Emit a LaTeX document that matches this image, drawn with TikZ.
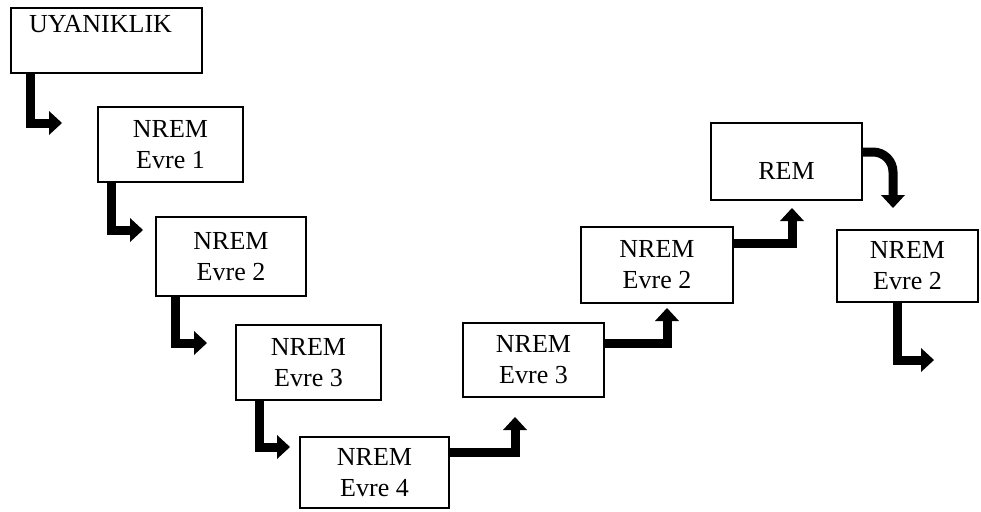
\documentclass[tikz,border=0pt]{standalone}
\usepackage{fontspec}
\setmainfont{Liberation Serif}
\usetikzlibrary{arrows.meta}
\tikzset{
  box/.style={draw, line width=1.1pt, align=center, inner sep=0pt,
    font=\fontsize{26}{31}\selectfont},
  txt/.style={font=\fontsize{26}{31}\selectfont, inner sep=0pt},
  flow/.style={line width=9pt,
    -{Triangle[width=24pt,length=13pt,line width=0pt]}},
}
\begin{document}
\begin{tikzpicture}[x=1pt,y=-1pt]
  \useasboundingbox (0,0) rectangle (981,511);

  % stages
  \node[box, minimum width=191, minimum height=65,
    label={[txt, xshift=-6pt, yshift=16pt]center:UYANIKLIK}] (u) at (106.5,40.5) {};
  \node[box, minimum width=145, minimum height=75] (n1) at (170.5,144.5) {NREM\\Evre 1};
  \node[box, minimum width=150, minimum height=79] (n2) at (231,256.5) {NREM\\Evre 2};
  \node[box, minimum width=145, minimum height=75] (n3) at (308.5,362.5) {NREM\\Evre 3};
  \node[box, minimum width=149, minimum height=71] (n4) at (374.5,472.5) {NREM\\Evre 4};
  \node[box, minimum width=141, minimum height=74] (n5) at (533.5,360) {NREM\\Evre 3};
  \node[box, minimum width=152, minimum height=76] (n6) at (657,265) {NREM\\Evre 2};
  \node[box, minimum width=151, minimum height=77,
    label={[txt, yshift=-9.5pt]center:REM}] (rem) at (786.5,161.5) {};
  \node[box, minimum width=141, minimum height=72] (n7) at (907.5,266) {NREM\\Evre 2};

  % arrow tips
  \coordinate (t1) at (62,123);
  \coordinate (t2) at (143,230);
  \coordinate (t3) at (207,343);
  \coordinate (t4) at (290,447);
  \coordinate (t5) at (515,417);
  \coordinate (t6) at (667,308);
  \coordinate (t7) at (792,208);
  \coordinate (t8) at (893,208);
  \coordinate (t9) at (934,360);

  % going down
  \draw[flow] ([xshift=20pt]u.south west) |- (t1);
  \draw[flow] ([xshift=14pt]n1.south west) |- (t2);
  \draw[flow] ([xshift=20pt]n2.south west) |- (t3);
  \draw[flow] ([xshift=24pt]n3.south west) |- (t4);
  % going up
  \draw[flow] ([yshift=20.5pt]n4.east) -| (t5);
  \draw[flow] ([yshift=17pt]n5.east) -| (t6);
  \draw[flow] ([yshift=22pt]n6.east) -| (t7);
  \draw[flow, rounded corners=20pt] ([yshift=9.5pt]rem.east) -| (t8);
  \draw[flow] ([xshift=61pt]n7.south west) |- (t9);
\end{tikzpicture}
\end{document}
